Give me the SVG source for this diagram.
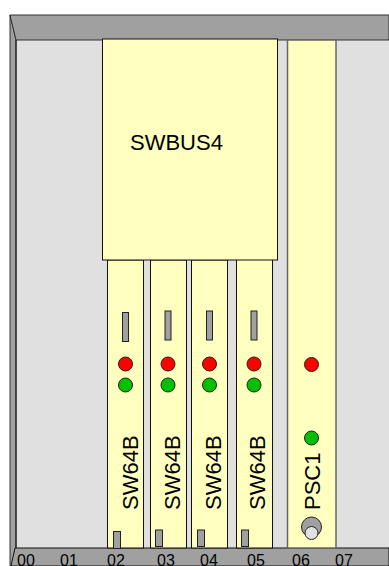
<svg xmlns="http://www.w3.org/2000/svg" width="389" height="566" viewBox="0 0 389 566">
<style>
.card{fill:#ffffc0;stroke:#111;stroke-width:1}
.g{fill:#a0a0a0;stroke:#222;stroke-width:1}
.r{fill:#ff0000;stroke:#222;stroke-width:1}
.v{fill:#00c000;stroke:#222;stroke-width:1}
text{font-family:"Liberation Sans",Arial,sans-serif;font-size:22px;fill:#000}
.n{font-size:16px}
</style>
<g id="chassis">
<rect x="16" y="40" width="373" height="508" fill="#e0e0e0"/>
<path d="M10 15L16 40V566H10Z" fill="#a0a0a0" stroke="#333"/>
<path d="M10 15H389V40H16Z" fill="#a0a0a0" stroke="#333"/>
<path d="M16 40V548" stroke="#111" fill="none"/>
<path d="M15 548H389V566H11Z" fill="#a0a0a0" stroke="#111"/>
</g>
<g id="card-02">
<rect class="card" x="107.500" y="260" width="36" height="288"/>
<rect class="g" x="122.500" y="312.500" width="6" height="29"/>
<circle class="r" cx="125.500" cy="364" r="7"/><circle class="v" cx="125.500" cy="385" r="7"/>
<text transform="translate(137.500,510) rotate(-90)">SW64B</text>
<rect class="g" x="113.500" y="531.500" width="7" height="17"/>
</g>
<g id="card-03">
<rect class="card" x="150.500" y="260" width="36" height="288"/>
<rect class="g" x="165" y="311" width="6" height="29"/>
<circle class="r" cx="168" cy="364" r="7"/><circle class="v" cx="168" cy="385" r="7"/>
<text transform="translate(180,510) rotate(-90)">SW64B</text>
<rect class="g" x="155.500" y="530" width="7" height="16.500"/>
</g>
<g id="card-04">
<rect class="card" x="191.500" y="260" width="36" height="288"/>
<rect class="g" x="206.500" y="311" width="6" height="29"/>
<circle class="r" cx="209.500" cy="364" r="7"/><circle class="v" cx="209.500" cy="385" r="7"/>
<text transform="translate(221,510) rotate(-90)">SW64B</text>
<rect class="g" x="197.500" y="530" width="7" height="16.500"/>
</g>
<g id="card-05">
<rect class="card" x="236.500" y="257.500" width="36" height="290.500"/>
<rect class="g" x="251" y="311" width="6" height="29"/>
<circle class="r" cx="254" cy="364" r="7"/><circle class="v" cx="254" cy="385" r="7"/>
<text transform="translate(265,510) rotate(-90)">SW64B</text>
<rect class="g" x="241.500" y="530" width="7" height="16.500"/>
</g>
<g id="psc1">
<rect x="287.500" y="40" width="48.500" height="508" fill="#ffffc0" stroke="#666" stroke-width="1.500"/>
<circle class="r" cx="311.500" cy="364.500" r="7"/><circle class="v" cx="311.500" cy="438" r="7"/>
<text transform="translate(320,510) rotate(-90)">PSC1</text>
<circle class="g" cx="311.500" cy="527" r="10"/><circle cx="311.500" cy="533" r="6.500" fill="#e0e0e0" stroke="#222"/>
</g>
<g id="swbus4">
<rect x="102.500" y="39" width="175" height="221" fill="#ffffc0" stroke="#111"/>
<text x="130" y="150">SWBUS4</text>
</g>
<g id="labels">
<text class="n" x="17" y="565.500">00</text><text class="n" x="60" y="565.500">01</text><text class="n" x="107" y="565.500">02</text><text class="n" x="157" y="565.500">03</text><text class="n" x="200" y="565.500">04</text><text class="n" x="247" y="565.500">05</text><text class="n" x="292" y="565.500">06</text><text class="n" x="335" y="565.500">07</text>
</g>
<g id="connectors"/>
</svg>
